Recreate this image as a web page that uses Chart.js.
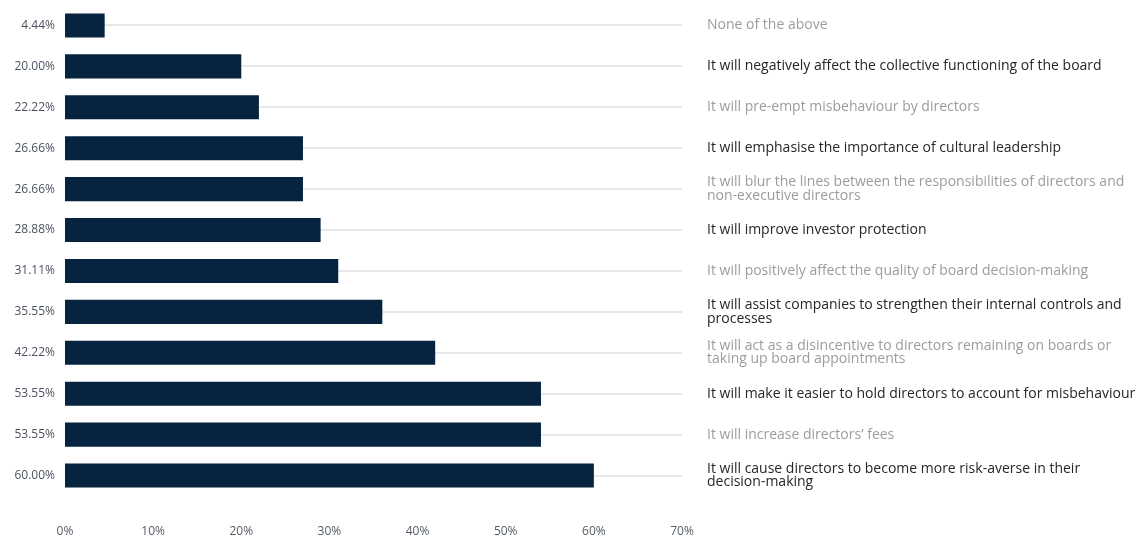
<!DOCTYPE html>
<html>
<head>
<meta charset="utf-8">
<script src="https://cdn.jsdelivr.net/npm/chart.js@4"></script>
<style>
  body { margin: 0; background: #fff; }
  #wrap { width: 1137px; height: 538px; }
</style>
</head>
<body>
<div id="wrap"><canvas id="bars" width="1137" height="538"></canvas></div>
<script>
const statements = [
  "None of the above",
  "It will negatively affect the collective functioning of the board",
  "It will pre-empt misbehaviour by directors",
  "It will emphasise the importance of cultural leadership",
  ["It will blur the lines between the responsibilities of directors and", "non-executive directors"],
  "It will improve investor protection",
  "It will positively affect the quality of board decision-making",
  ["It will assist companies to strengthen their internal controls and", "processes"],
  ["It will act as a disincentive to directors remaining on boards or", "taking up board appointments"],
  "It will make it easier to hold directors to account for misbehaviour",
  "It will increase directors\u2019 fees",
  ["It will cause directors to become more risk-averse in their", "decision-making"]
];
// bar lengths as drawn in the picture (they are rounded, the labels are not)
const barValues = [4.5, 20, 22, 27, 27, 29, 31, 36, 42, 54, 54, 60];
const shareLabels = ["4.44%", "20.00%", "22.22%", "26.66%", "26.66%", "28.88%",
  "31.11%", "35.55%", "42.22%", "53.55%", "53.55%", "60.00%"];

const fontFam = "'Open Sans', 'DejaVu Sans', sans-serif";

// drop the extra room chart.js keeps for the first/last tick labels
const noPad = (s) => { s.paddingTop = 0; s.paddingBottom = 0; };

var ctx = document.getElementById("bars").getContext("2d");
var chart = new Chart(ctx, {
  type: "bar",
  data: {
    labels: shareLabels,
    datasets: [
      {
        data: barValues,
        backgroundColor: "#06233f",
        categoryPercentage: 1,
        barPercentage: 0.59,
        yAxisID: "y",
      },
    ],
  },
  options: {
    indexAxis: "y",
    responsive: false,
    animation: false,
    layout: { padding: { top: 5, bottom: 0, left: 0, right: 0 } },
    plugins: { legend: { display: false }, tooltip: { enabled: false } },
    scales: {
      x: {
        min: 0,
        max: 70,
        afterFit: (s) => { s.height = 42; },
        ticks: {
          stepSize: 10,
          padding: 20,
          color: "#555c66",
          font: { family: fontFam, size: 12 },
          callback: (v) => v + "%",
        },
        grid: { display: false },
        border: { display: false },
      },
      y: {
        position: "left",
        afterFit: (s) => { s.width = 65; noPad(s); },
        ticks: {
          padding: 10,
          color: "#4b5260",
          font: { family: fontFam, size: 12 },
        },
        grid: {
          offset: false,
          color: "#e4e7eb",
          lineWidth: 2,
          drawTicks: false,
        },
        border: { display: false },
      },
      y2: {
        type: "category",
        position: "right",
        labels: statements,
        offset: true,
        afterFit: (s) => { s.width = 455; noPad(s); },
        ticks: {
          padding: 17,
          color: (c) => (c.index % 2 === 0 ? "#9c9c9c" : "#262626"),
          font: { family: fontFam, size: 14, lineHeight: 0.95 },
        },
        grid: { display: false },
        border: { display: false },
      },
    },
  },
});
</script>
</body>
</html>
